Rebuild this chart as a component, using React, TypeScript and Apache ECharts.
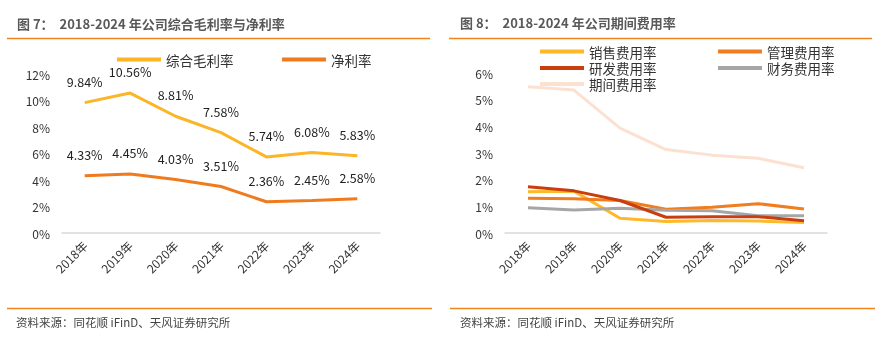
import React, { useEffect, useRef } from "react";
import * as echarts from "echarts";

const years = ["2018年", "2019年", "2020年", "2021年", "2022年", "2023年", "2024年"];
const grossMargin = [9.84, 10.56, 8.81, 7.58, 5.74, 6.08, 5.83];
const netMargin = [4.33, 4.45, 4.03, 3.51, 2.36, 2.45, 2.58];
const salesRate = [1.55, 1.57, 0.55, 0.43, 0.47, 0.45, 0.39];
const adminRate = [1.3, 1.28, 1.22, 0.89, 0.97, 1.1, 0.9];
const rdRate = [1.73, 1.58, 1.22, 0.59, 0.61, 0.61, 0.46];
const financeRate = [0.95, 0.86, 0.93, 0.85, 0.83, 0.65, 0.65];
const periodRate = [5.48, 5.36, 3.93, 3.13, 2.92, 2.8, 2.45];

const leftTicks = [0, 2, 4, 6, 8, 10, 12];
const rightTicks = [0, 1, 2, 3, 4, 5, 6];

const FONT = '"Noto Sans CJK SC", "Noto Sans", sans-serif';
const ORANGE_RULE = "#F08519";

export default function App() {
  const ref = useRef<HTMLDivElement>(null);
  useEffect(() => {
    if (!ref.current) return;
    const chart = echarts.init(ref.current, null, { renderer: "svg" });
    const yAxisCommon = (max: number, interval: number, gridIndex: number) => ({
      type: "value",
      gridIndex,
      min: 0,
      max,
      interval,
      axisLine: { show: false },
      axisTick: { show: false },
      splitLine: { show: false },
      axisLabel: {
        formatter: "{value}%",
        fontSize: 12,
        color: "#333",
        fontFamily: FONT,
        margin: 12,
      },
    });
    const xAxisCommon = (gridIndex: number) => ({
      type: "category",
      gridIndex,
      data: years,
      boundaryGap: true,
      axisLine: { show: true, lineStyle: { color: "#D9D9D9", width: 1.5 } },
      axisTick: { show: false },
      axisLabel: {
        rotate: 45,
        fontSize: 12,
        color: "#333",
        fontFamily: FONT,
        margin: 10,
        interval: 0,
      },
    });
    const legendItem = (name: string, left: number, top: number) => ({
      data: [name],
      left,
      top,
      padding: 0,
      icon: "rect",
      itemWidth: 44,
      itemHeight: 4,
      textStyle: { fontSize: 13.5, lineHeight: 15, color: "#333", fontFamily: FONT },
    });
    const lineSeries = (
      name: string,
      data: number[],
      color: string,
      axisIndex: number,
      withLabel: boolean,
      z: number
    ) => ({
      type: "line",
      name,
      data,
      xAxisIndex: axisIndex,
      yAxisIndex: axisIndex,
      symbol: "circle",
      symbolSize: 0.1,
      showSymbol: true,
      z,
      lineStyle: { color, width: 3 },
      itemStyle: { color },
      label: withLabel
        ? {
            show: true,
            position: "top",
            distance: 15,
            fontSize: 12.5,
            color: "#222",
            fontFamily: FONT,
            formatter: (p: any) => Number(p.value).toFixed(2) + "%",
          }
        : { show: false },
    });

    chart.setOption({
      animation: false,
      textStyle: { fontFamily: FONT },
      grid: [
        { left: 62, top: 74, width: 318, height: 159 },
        { left: 505, top: 73, width: 322, height: 160 },
      ],
      xAxis: [xAxisCommon(0), xAxisCommon(1)],
      yAxis: [yAxisCommon(leftTicks[leftTicks.length - 1], 2, 0), yAxisCommon(rightTicks[rightTicks.length - 1], 1, 1)],
      legend: [
        legendItem("综合毛利率", 117, 52),
        legendItem("净利率", 282, 52),
        legendItem("销售费用率", 540, 44),
        legendItem("管理费用率", 718, 44),
        legendItem("研发费用率", 540, 60.5),
        legendItem("财务费用率", 718, 60.5),
        legendItem("期间费用率", 540, 76.5),
      ],
      series: [
        lineSeries("综合毛利率", grossMargin, "#FBB526", 0, true, 3),
        lineSeries("净利率", netMargin, "#F07B1E", 0, true, 3),
        lineSeries("期间费用率", periodRate, "#FCE1D1", 1, false, 2),
        lineSeries("销售费用率", salesRate, "#FDB92A", 1, false, 3),
        lineSeries("管理费用率", adminRate, "#F07D1F", 1, false, 3),
        lineSeries("财务费用率", financeRate, "#A6A6A6", 1, false, 4),
        lineSeries("研发费用率", rdRate, "#C83E0E", 1, false, 5),
      ],
      graphic: [
        {
          type: "text",
          left: 17,
          top: 17,
          style: {
            text: "图 7：  2018-2024 年公司综合毛利率与净利率",
            fontSize: 13,
            fontWeight: "bold",
            fill: "#595959",
            fontFamily: FONT,
          },
        },
        {
          type: "text",
          left: 460,
          top: 16,
          style: {
            text: "图 8：  2018-2024 年公司期间费用率",
            fontSize: 13,
            fontWeight: "bold",
            fill: "#595959",
            fontFamily: FONT,
          },
        },
        { type: "line", shape: { x1: 7, y1: 38.5, x2: 430, y2: 38.5 }, style: { stroke: ORANGE_RULE, lineWidth: 1.5 } },
        { type: "line", shape: { x1: 449, y1: 38.5, x2: 872, y2: 38.5 }, style: { stroke: ORANGE_RULE, lineWidth: 1.5 } },
        { type: "line", shape: { x1: 7, y1: 308.5, x2: 432, y2: 308.5 }, style: { stroke: ORANGE_RULE, lineWidth: 1.5 } },
        { type: "line", shape: { x1: 450, y1: 308.5, x2: 875, y2: 308.5 }, style: { stroke: ORANGE_RULE, lineWidth: 1.5 } },
        {
          type: "text",
          left: 16,
          top: 316,
          style: {
            text: "资料来源：同花顺 iFinD、天风证券研究所",
            fontSize: 11.5,
            fill: "#444",
            fontFamily: FONT,
          },
        },
        {
          type: "text",
          left: 460,
          top: 316,
          style: {
            text: "资料来源：同花顺 iFinD、天风证券研究所",
            fontSize: 11.5,
            fill: "#444",
            fontFamily: FONT,
          },
        },
      ],
    });
    return () => chart.dispose();
  }, []);
  return <div ref={ref} style={{ position: "fixed", left: 0, top: 0, width: 883, height: 342 }} />;
}
